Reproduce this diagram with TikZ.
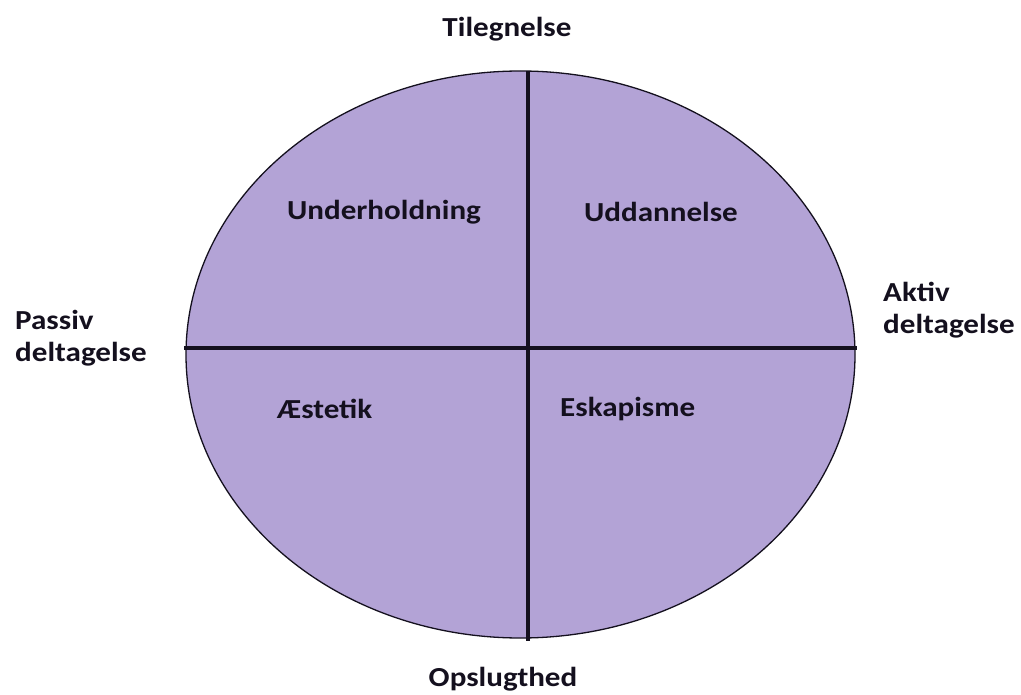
\documentclass[tikz,border=0pt]{standalone}
\usepackage{fontspec}
\setmainfont{Carlito}
\usetikzlibrary{shapes.geometric}
\definecolor{lav}{RGB}{179,163,214}
\definecolor{ink}{RGB}{20,16,30}
\newcommand{\wide}[1]{\scalebox{1.13}[1]{#1}}
\begin{document}
\begin{tikzpicture}[x=1pt,y=-1pt,
  lbl/.style={font=\bfseries\fontsize{27.5}{32}\selectfont, text=ink, inner sep=0pt},
  axis/.style={draw=ink, line width=3.5pt}]
\useasboundingbox (0,0) rectangle (1021,695);
\fill[white] (0,0) rectangle (1021,695);
\node[draw=ink, line width=1.3pt, fill=lav, ellipse, minimum width=669pt, minimum height=567pt, inner sep=0pt] (ell) at (520.5,354.5) {};
\coordinate (top) at (528,71);
\coordinate (bot) at (528,641);
\coordinate (lft) at (184,348);
\coordinate (rgt) at (857,348);
\draw[axis] (top) -- (bot);
\draw[axis] (lft) -- (rgt);
\node[lbl] (til) at (507,29) {\wide{Tilegnelse}};
\node[lbl] (ops) at (503,679) {\wide{Opslugthed}};
\node[lbl, anchor=west, align=left] (pas) at (15,338) {\wide{Passiv}\\\wide{deltagelse}};
\node[lbl, anchor=west, align=left] (akt) at (883,310) {\wide{Aktiv}\\\wide{deltagelse}};
\node[lbl] (und) at (384,212) {\wide{Underholdning}};
\node[lbl] (udd) at (661,212) {\wide{Uddannelse}};
\node[lbl, anchor=west] (aes) at (277,409) {\wide{Æstetik}};
\node[lbl, anchor=west] (esk) at (560,409) {\wide{Eskapisme}};
\end{tikzpicture}
\end{document}
